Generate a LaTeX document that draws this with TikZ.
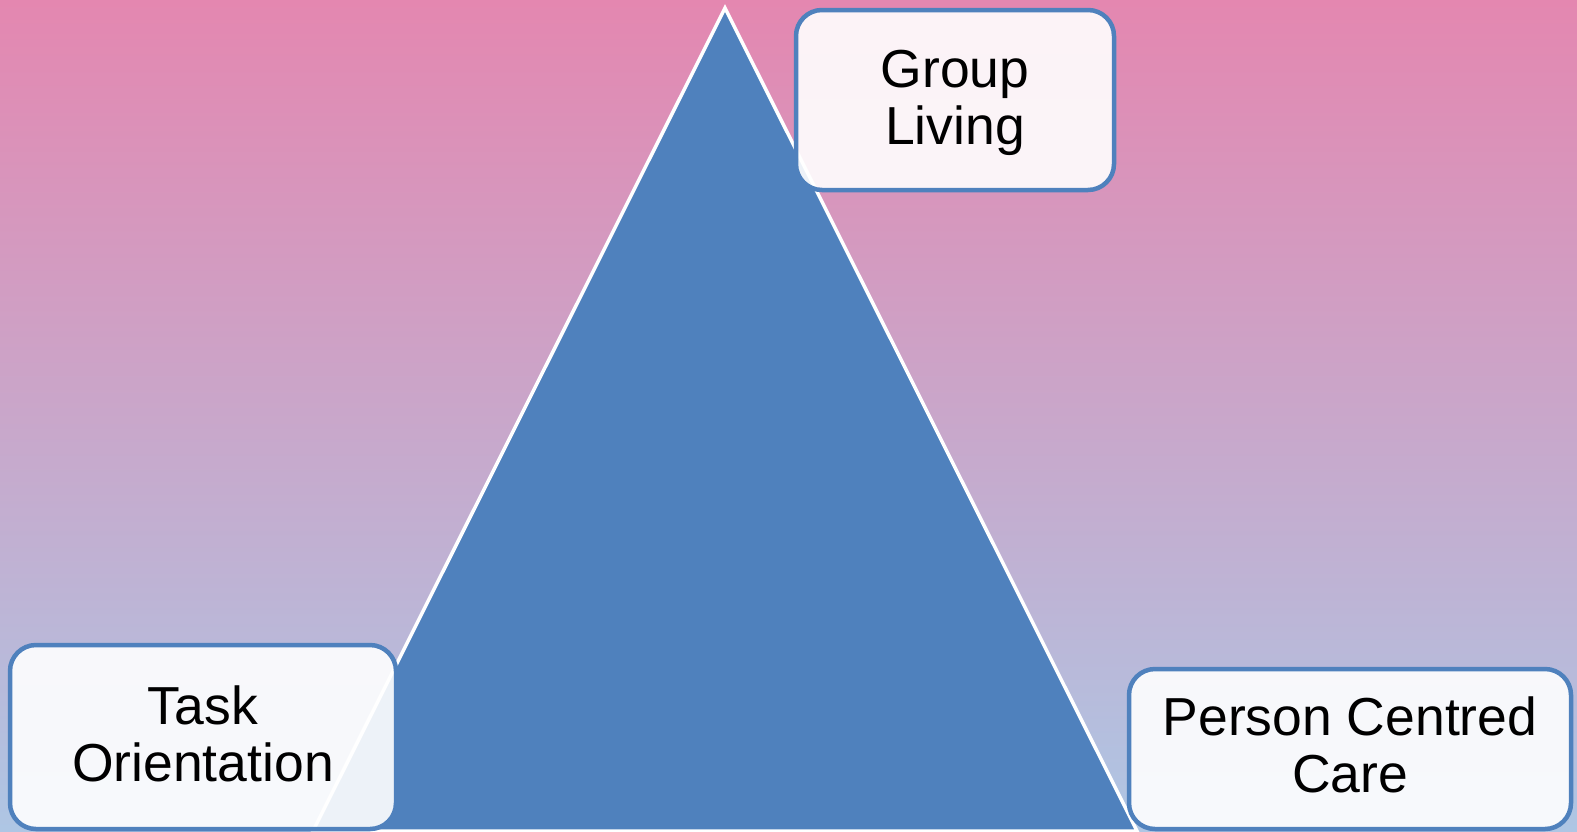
\documentclass[tikz,border=0pt]{standalone}
\usepackage{fontspec}
\setmainfont{Liberation Sans}
\definecolor{bgtop}{RGB}{228,135,176}
\definecolor{bgbot}{RGB}{174,198,228}
\definecolor{triblue}{RGB}{79,129,189}
\tikzset{
  labelbox/.style={draw=triblue, line width=4.5pt, rounded corners=26pt,
    fill=white, fill opacity=0.9, text opacity=1, align=center,
    font=\fontsize{53.5}{57}\selectfont, text=black, inner sep=0pt},
  tri/.style={fill=triblue, draw=white, line width=3.5pt, line join=miter}
}
\begin{document}
\begin{tikzpicture}[x=1pt,y=-1pt]
\useasboundingbox (0,0) rectangle (1577,831);
\shade[top color=bgtop, bottom color=bgbot] (0,0) rectangle (1577,831);
\coordinate (apex) at (725,8);
\coordinate (bl) at (313,831);
\coordinate (br) at (1137,831);
\draw[tri] (apex) -- (br) -- (bl) -- cycle;
\node[labelbox, minimum width=318pt, minimum height=180pt] (group) at (955,100) {};
\node[font=\fontsize{53.5}{57}\selectfont, align=center, inner sep=0pt] (grouptext) at (955,103) {Group\\Living};
\node[labelbox, minimum width=386pt, minimum height=184pt] (task) at (203,737) {};
\node[font=\fontsize{53.5}{57}\selectfont, align=center, inner sep=0pt] (tasktext) at (203,734) {Task\\Orientation};
\node[labelbox, minimum width=442pt, minimum height=160pt] (person) at (1350,749) {};
\node[font=\fontsize{53.5}{57}\selectfont, align=center, inner sep=0pt] (persontext) at (1350,745) {Person Centred\\Care};
\end{tikzpicture}
\end{document}
